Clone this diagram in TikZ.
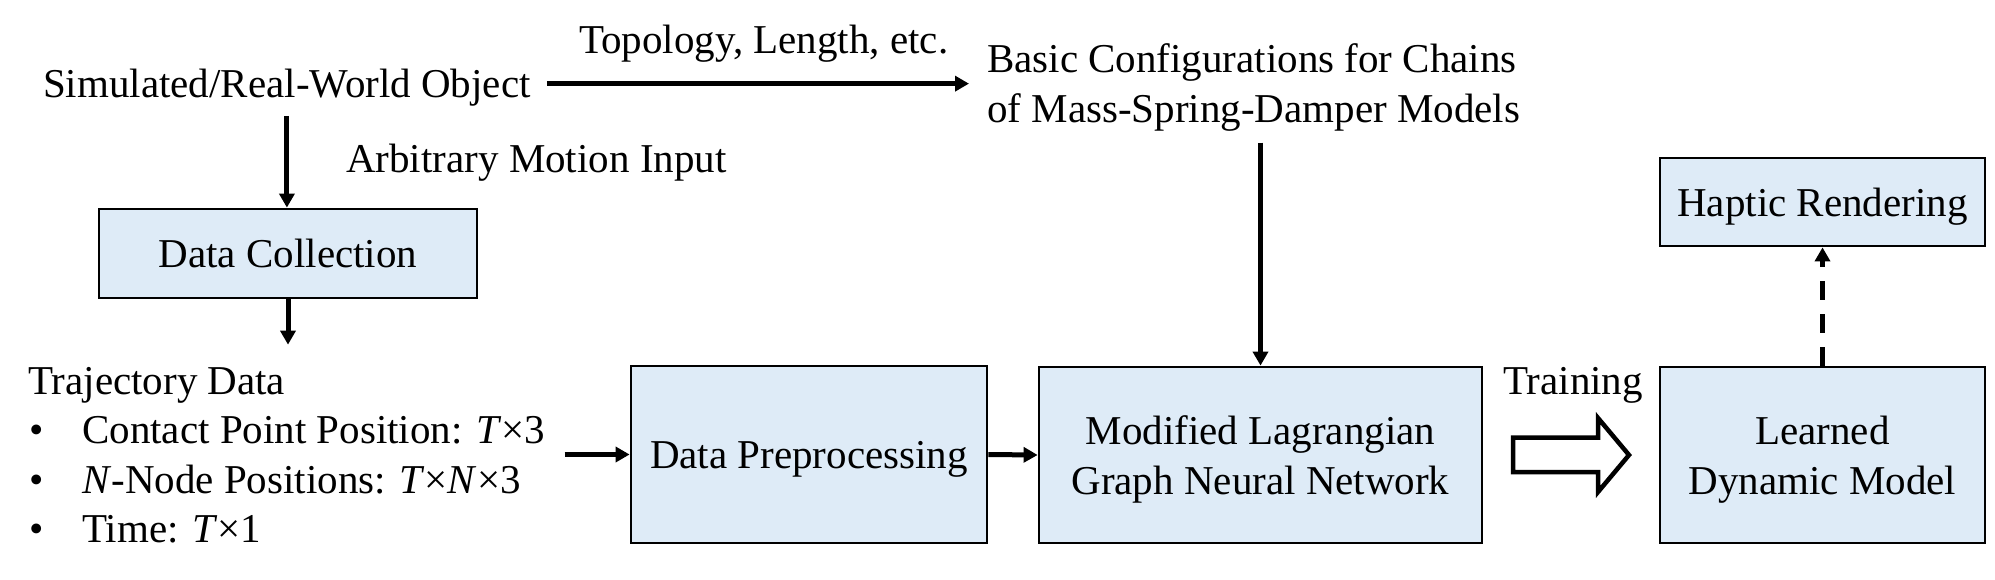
\documentclass[tikz,border=0pt]{standalone}
\usepackage{fontspec}
\setmainfont{Liberation Serif}
\usetikzlibrary{arrows.meta}
\definecolor{boxfill}{RGB}{222,235,247}
\begin{document}
\begin{tikzpicture}[x=1pt,y=-1pt,
  every node/.style={font=\fontsize{41}{50}\selectfont},
  box/.style={draw=black, line width=2.8pt, fill=boxfill, align=center, inner sep=0pt, text depth=0pt},
  arr/.style={line width=5pt, -{Triangle[length=14pt,width=15pt]}},
  lbl/.style={inner sep=0pt}]
\useasboundingbox (0,0) rectangle (1995,579);

% texts
\node[lbl, anchor=base west] (obj) at (43,97) {Simulated/Real-World Object};
\node[lbl, anchor=base west] (topo) at (579,53) {Topology, Length, etc.};
\node[lbl, anchor=west, align=left] (basic) at (987,87.5) {Basic Configurations for Chains\\of Mass-Spring-Damper Models};
\node[lbl, anchor=base west] (ami) at (346,172) {Arbitrary Motion Input};

\node[lbl, anchor=base west] (traj) at (28,394) {Trajectory Data};
\node[lbl, anchor=base] (d1) at (37,443) {•};
\node[lbl, anchor=base] (d2) at (37,493) {•};
\node[lbl, anchor=base] (d3) at (37,542) {•};
\node[lbl, anchor=base west] (b1) at (82,443) {Contact Point Position: \textit{T}×3};
\node[lbl, anchor=base west] (b2) at (82,493) {\textit{N}-Node Positions: \textit{T}×\textit{N}×3};
\node[lbl, anchor=base west] (b3) at (82,542) {Time: \textit{T}×1};
\node[lbl, anchor=base] (train) at (1573,394) {Training};

% boxes
\node[box, minimum width=378pt, minimum height=89pt] (dc) at (288,253.5) {Data Collection};
\node[box, minimum width=356pt, minimum height=177pt] (dp) at (809,454.5) {Data Preprocessing};
\node[box, minimum width=443pt, minimum height=176pt] (gnn) at (1260.5,455) {Modified Lagrangian\\Graph Neural Network};
\node[box, minimum width=325pt, minimum height=176pt] (ldm) at (1822.5,455) {Learned\\Dynamic Model};
\node[box, minimum width=325pt, minimum height=88pt] (hr) at (1822.5,202) {Haptic Rendering};

% connectors
\coordinate (oe) at ([xshift=16pt,yshift=3.5pt]obj.east);
\draw[arr, shorten >=18pt] (oe) -- (oe -| basic.west);
\draw[arr, shorten <=10pt] (obj.south) -- (obj.south |- dc.north);
\draw[arr, shorten >=22pt] (dc.south) -- (dc.south |- traj.north);
\draw[arr] ([xshift=-65pt]dp.west) -- (dp.west);
\draw[arr] (dp.east) -- (gnn.west);
\draw[arr, shorten <=11pt] (gnn.north |- basic.south) -- (gnn.north);
\draw[arr, dash pattern=on 19pt off 14pt] (ldm.north) -- (hr.south);

% hollow training arrow
\draw[line width=4.5pt, line join=miter]
  (1513,437.5) -- (1598,437.5) -- (1598,418) -- (1629,455) -- (1598,492) -- (1598,472) -- (1513,472) -- cycle;
\end{tikzpicture}
\end{document}
